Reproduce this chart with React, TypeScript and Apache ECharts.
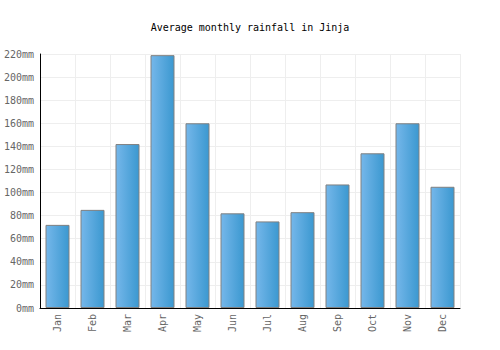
import React, { useEffect, useRef } from "react";
import * as echarts from "echarts";

const months = ["Jan", "Feb", "Mar", "Apr", "May", "Jun", "Jul", "Aug", "Sep", "Oct", "Nov", "Dec"];
const rainfall = [72, 85, 142, 219, 160, 82, 75, 83, 107, 134, 160, 105];
const titleText = "Average monthly rainfall in Jinja";

export default function App() {
  const ref = useRef<HTMLDivElement>(null);
  useEffect(() => {
    document.body.style.margin = "0";
    const chart = echarts.init(ref.current!, null, { renderer: "svg" });
    const font = "DejaVu Sans Mono";
    chart.setOption({
      animation: false,
      title: {
        text: titleText,
        left: "center",
        top: 17,
        textStyle: { fontFamily: font, fontSize: 10, fontWeight: "normal", color: "#000" },
      },
      grid: { left: 40, right: 40, top: 54, bottom: 42, containLabel: false, outerBoundsMode: "none" },
      xAxis: {
        type: "category",
        data: months,
        axisLine: { lineStyle: { color: "#000", width: 1 } },
        axisTick: { show: false },
        splitLine: { show: true, interval: 0, lineStyle: { color: "#eeeeee" } },
        axisLabel: { rotate: 90, interval: 0, fontFamily: font, fontSize: 10, color: "#666", margin: 6 },
      },
      yAxis: {
        type: "value",
        min: 0,
        max: 220,
        interval: 20,
        axisLine: { show: true, lineStyle: { color: "#000", width: 1 } },
        axisTick: { show: false },
        splitLine: { lineStyle: { color: "#eeeeee" } },
        axisLabel: { formatter: "{value}mm", fontFamily: font, fontSize: 10, color: "#666", margin: 6 },
      },
      series: [
        {
          type: "bar",
          data: rainfall,
          barWidth: 24,
          itemStyle: {
            color: new echarts.graphic.LinearGradient(0, 0, 1, 0, [
              { offset: 0, color: "#75b7ea" },
              { offset: 1, color: "#3b98d0" },
            ]),
            borderColor: "#808080",
            borderWidth: 1,
          },
        },
      ],
    });
    return () => chart.dispose();
  }, []);
  return <div ref={ref} style={{ width: 500, height: 350 }} />;
}
